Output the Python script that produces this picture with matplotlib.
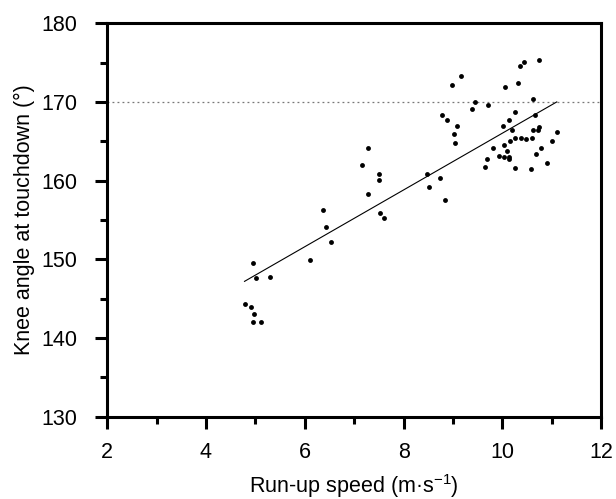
import numpy as np
import matplotlib
matplotlib.use("Agg")
import matplotlib.pyplot as plt
from matplotlib.ticker import MultipleLocator

plt.rcParams["font.family"] = ["Liberation Sans", "DejaVu Sans"]
plt.rcParams["mathtext.fontset"] = "custom"
plt.rcParams["mathtext.rm"] = "Liberation Sans"
plt.rcParams["mathtext.it"] = "Liberation Sans"

# run-up speed (m/s) and knee angle at touchdown (deg)
speed = [10.75, 10.44, 10.36, 9.17, 8.98, 10.06, 10.31, 10.61, 9.45, 9.38,
         9.70, 8.78, 8.88, 9.09, 9.03, 9.05, 10.25, 10.13, 10.66, 10.02,
         10.19, 10.62, 10.72, 10.75, 11.10, 10.25, 10.15, 10.38, 10.48, 10.59,
         11.01, 10.04, 9.80, 10.10, 10.78, 9.94, 10.04, 10.13, 10.13, 9.68,
         10.69, 9.65, 10.26, 10.57, 10.91, 7.27, 7.16, 7.50, 7.51, 8.47,
         8.73, 8.51, 8.84, 7.27, 7.52, 7.60, 6.36, 6.42, 6.53, 6.10,
         4.95, 5.01, 5.30, 4.78, 4.92, 4.98, 4.96, 5.12]
knee = [175.3, 175.1, 174.6, 173.3, 172.2, 171.9, 172.4, 170.4, 170.0, 169.1,
        169.6, 168.4, 167.7, 166.9, 166.0, 164.8, 168.7, 167.7, 168.4, 167.0,
        166.5, 166.4, 166.4, 166.8, 166.2, 165.4, 165.0, 165.4, 165.3, 165.4,
        165.1, 164.5, 164.1, 163.8, 164.1, 163.2, 163.0, 163.0, 162.8, 162.8,
        163.4, 161.7, 161.6, 161.5, 162.3, 164.1, 162.0, 160.8, 160.1, 160.8,
        160.3, 159.2, 157.5, 158.3, 155.9, 155.2, 156.3, 154.1, 152.2, 149.9,
        149.5, 147.6, 147.7, 144.3, 143.9, 143.0, 142.1, 142.0]

# regression line as drawn
fit_slope = 3.61
fit_intercept = 129.95
threshold = 170

fig = plt.figure(figsize=(6.16, 4.99), dpi=100)
ax = fig.add_axes([0.174, 0.165, 0.802, 0.788])

ax.axhline(threshold, color="#777777", lw=0.9, ls=(0, (1.5, 2.5)), zorder=1)

xs = np.array([min(speed), max(speed)])
ax.plot(xs, fit_slope * xs + fit_intercept, color="black", lw=0.8, zorder=2)
ax.plot(speed, knee, "o", color="black", ms=3.5, mew=0, zorder=3)

ax.set_xlim(2, 12)
ax.set_ylim(130, 180)
ax.xaxis.set_major_locator(MultipleLocator(2))
ax.xaxis.set_minor_locator(MultipleLocator(1))
ax.yaxis.set_major_locator(MultipleLocator(10))
ax.yaxis.set_minor_locator(MultipleLocator(5))

for s in ax.spines.values():
    s.set_linewidth(2.2)
ax.tick_params(which="major", length=8.5, width=2.2, labelsize=15.5)
ax.tick_params(axis="x", which="major", pad=10)
ax.tick_params(axis="y", which="major", pad=13)
ax.tick_params(which="minor", length=5, width=2.2)

ax.set_xlabel("Run-up speed (m·s$^{-1}$)", fontsize=15.5)
ax.set_ylabel("Knee angle at touchdown (°)", fontsize=15.5)
ax.xaxis.set_label_coords(0.5, -0.141)
ax.yaxis.set_label_coords(-0.146, 0.5)

fig.savefig("out.png", dpi=100)
